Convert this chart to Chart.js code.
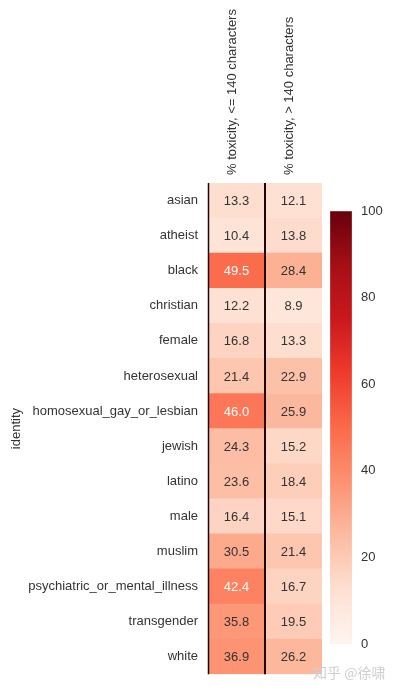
<!DOCTYPE html>
<html>
<head>
<meta charset="utf-8">
<script src="https://cdn.jsdelivr.net/npm/chart.js@4"></script>
<style>
  body { margin: 0; background: #fff; }
  #wrap { position: relative; width: 394px; height: 692px; }
  #heat { position: absolute; left: 0; top: 0; }
  #cbar { position: absolute; left: 320px; top: 200px; }
  #mark { position: absolute; left: 313px; top: 662px; font: 14px "Noto Sans CJK SC"; color: #cfcfcf; }
</style>
</head>
<body>
<div id="wrap">
  <canvas id="heat" width="394" height="692"></canvas>
  <canvas id="cbar" width="74" height="460"></canvas>
  <div id="mark">知乎 @徐啸</div>
</div>
<script>
const identities = ["asian", "atheist", "black", "christian", "female", "heterosexual",
  "homosexual_gay_or_lesbian", "jewish", "latino", "male", "muslim",
  "psychiatric_or_mental_illness", "transgender", "white"];
const columns = ["% toxicity, <= 140 characters", "% toxicity, > 140 characters"];
const shortTox = [13.3, 10.4, 49.5, 12.2, 16.8, 21.4, 46.0, 24.3, 23.6, 16.4, 30.5, 42.4, 35.8, 36.9];
const longTox = [12.1, 13.8, 28.4, 8.9, 13.3, 22.9, 25.9, 15.2, 18.4, 15.1, 21.4, 16.7, 19.5, 26.2];
const cbarTicks = [0, 20, 40, 60, 80, 100];

// matplotlib "Reds"
const reds = ["#fff5f0", "#fee0d2", "#fcbba1", "#fc9272", "#fb6a4a", "#ef3b2c", "#cb181d", "#a50f15", "#67000d"];
const FONT = "'Liberation Sans', Arial, sans-serif";

function hexRgb(h) {
  return [1, 3, 5].map(i => parseInt(h.substr(i, 2), 16));
}

function redsRgb(v) {
  const t = Math.max(0, Math.min(1, v / 100)) * (reds.length - 1);
  const i = Math.min(Math.floor(t), reds.length - 2);
  const f = t - i;
  const a = hexRgb(reds[i]), b = hexRgb(reds[i + 1]);
  return a.map((c, k) => Math.round(c + (b[k] - c) * f));
}

function redsColor(v) {
  return `rgb(${redsRgb(v).join(",")})`;
}

function luminance(rgb) {
  const lin = rgb.map(c => {
    c /= 255;
    return c <= 0.03928 ? c / 12.92 : Math.pow((c + 0.055) / 1.055, 2.4);
  });
  return 0.2126 * lin[0] + 0.7152 * lin[1] + 0.0722 * lin[2];
}

const cellLabels = {
  id: "cellLabels",
  afterDatasetsDraw(chart) {
    const ctx = chart.ctx;
    const x = chart.scales.x;
    const { top, bottom } = chart.chartArea;
    ctx.save();
    // separator lines
    ctx.strokeStyle = "#1e0606";
    ctx.lineWidth = 1.5;
    ctx.beginPath();
    ctx.moveTo(x.getPixelForValue(0) + 0.5, top);
    ctx.lineTo(x.getPixelForValue(0) + 0.5, bottom);
    ctx.stroke();
    ctx.lineWidth = 2;
    ctx.beginPath();
    ctx.moveTo(x.getPixelForValue(1), top);
    ctx.lineTo(x.getPixelForValue(1), bottom);
    ctx.stroke();

    ctx.font = "13px " + FONT;
    ctx.textAlign = "center";
    ctx.textBaseline = "middle";
    chart.data.datasets.forEach((ds, di) => {
      chart.getDatasetMeta(di).data.forEach((bar, i) => {
        const v = ds.values[i];
        ctx.fillStyle = luminance(redsRgb(v)) > 0.408 ? "#333333" : "#ffffff";
        const cx = (bar.x + bar.base) / 2;
        ctx.fillText(v.toFixed(1), cx, bar.y + 1);
      });
    });
    ctx.restore();
  }
};

new Chart(document.getElementById("heat"), {
  type: "bar",
  data: {
    labels: identities,
    datasets: [
      {
        values: shortTox,
        data: shortTox.map(() => [0, 1]),
        backgroundColor: shortTox.map(redsColor),
        borderWidth: 0,
        barPercentage: 1,
        categoryPercentage: 1
      },
      {
        values: longTox,
        data: longTox.map(() => [1, 2]),
        backgroundColor: longTox.map(redsColor),
        borderWidth: 0,
        barPercentage: 1,
        categoryPercentage: 1
      }
    ]
  },
  options: {
    indexAxis: "y",
    responsive: false,
    animation: false,
    layout: { padding: { left: 0, right: 72, top: 0, bottom: 16 } },
    plugins: { legend: { display: false }, tooltip: { enabled: false } },
    scales: {
      y: {
        stacked: true,
        grid: { display: false, drawTicks: false },
        border: { display: false },
        ticks: { color: "#333", font: { family: FONT, size: 13 }, padding: 10 },
        title: { display: true, text: "identity", color: "#333", font: { family: FONT, size: 13 }, padding: { top: 9, bottom: 0 } },
        afterFit: s => { s.width = 208; }
      },
      x: {
        position: "top",
        min: 0,
        max: 2,
        grid: { display: false, drawTicks: false },
        border: { display: false },
        afterBuildTicks: s => { s.ticks = columns.map((c, i) => ({ value: i + 0.5 })); },
        ticks: {
          autoSkip: false,
          minRotation: 90,
          maxRotation: 90,
          padding: 8,
          labelOffset: 12,
          color: "#333",
          font: { family: FONT, size: 13 },
          callback: (v, i) => columns[i]
        },
        afterFit: s => { s.height = 183; }
      }
    }
  },
  plugins: [cellLabels]
});

new Chart(document.getElementById("cbar"), {
  type: "bar",
  data: {
    labels: [""],
    datasets: [{
      data: [[cbarTicks[0], cbarTicks[cbarTicks.length - 1]]],
      backgroundColor: ctx => {
        const area = ctx.chart.chartArea;
        if (!area) return reds[4];
        const g = ctx.chart.ctx.createLinearGradient(0, area.bottom, 0, area.top);
        reds.forEach((c, i) => g.addColorStop(i / (reds.length - 1), c));
        return g;
      },
      borderColor: "#e4e4e4",
      borderWidth: 0.5,
      barPercentage: 1,
      categoryPercentage: 1
    }]
  },
  options: {
    responsive: false,
    animation: false,
    layout: { padding: { left: 10, right: 0, top: 11, bottom: 16 } },
    plugins: { legend: { display: false }, tooltip: { enabled: false } },
    scales: {
      x: { display: false },
      y: {
        position: "right",
        min: 0,
        max: 100,
        grid: { display: false, drawTicks: false },
        border: { display: false },
        afterBuildTicks: s => { s.ticks = cbarTicks.map(v => ({ value: v })); },
        ticks: { color: "#333", font: { family: FONT, size: 13 }, padding: 9 },
        afterFit: s => { s.width = 42; s.paddingTop = 0; s.paddingBottom = 0; }
      }
    }
  }
});
</script>
</body>
</html>
